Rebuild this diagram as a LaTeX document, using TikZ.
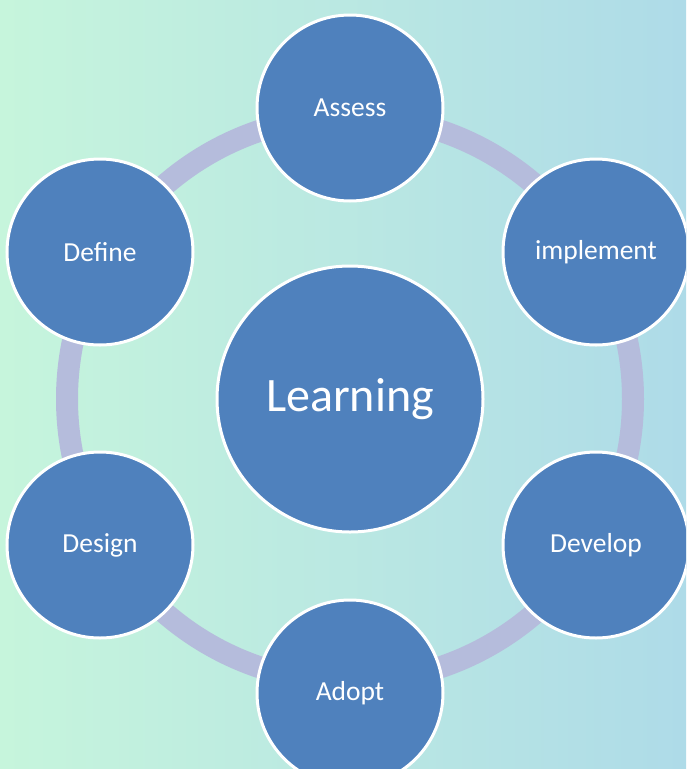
\documentclass[tikz,border=0pt]{standalone}
\usepackage{fontspec}
\setmainfont{Carlito}
\definecolor{bgleft}{RGB}{198,245,220}
\definecolor{bgright}{RGB}{174,219,232}
\definecolor{ringcol}{RGB}{181,188,220}
\definecolor{nodeblue}{RGB}{79,129,189}
\begin{document}
\begin{tikzpicture}[x=1pt,y=-1pt,
  bubble/.style={circle,fill=nodeblue,draw=white,line width=3pt,minimum size=186pt,inner sep=0pt,text=white,font=\fontsize{27.5}{32}\selectfont},
  hub/.style={circle,fill=nodeblue,draw=white,line width=3pt,minimum size=266pt,inner sep=0pt,text=white,font=\fontsize{48}{56}\selectfont},
  ringline/.style={draw=ringcol,line width=22pt}]
\useasboundingbox (0,0) rectangle (686,769);
\shade[left color=bgleft,right color=bgright] (0,0) rectangle (686,769);
\begin{scope}
\clip (0,0) rectangle (686,769);
\coordinate (c) at (350,399);
\draw[ringline] (c) circle (283pt);
\node[hub] (learn) at (c) {Learning};
\node[bubble] (assess) at (350,108) {Assess};
\node[bubble] (impl) at (596,252) {implement};
\node[bubble] (dev) at (596,545) {Develop};
\node[bubble] (adopt) at (350,693) {Adopt};
\node[bubble] (design) at (100,545) {Design};
\node[bubble] (define) at (100,252) {Define};
\end{scope}
\end{tikzpicture}
\end{document}
